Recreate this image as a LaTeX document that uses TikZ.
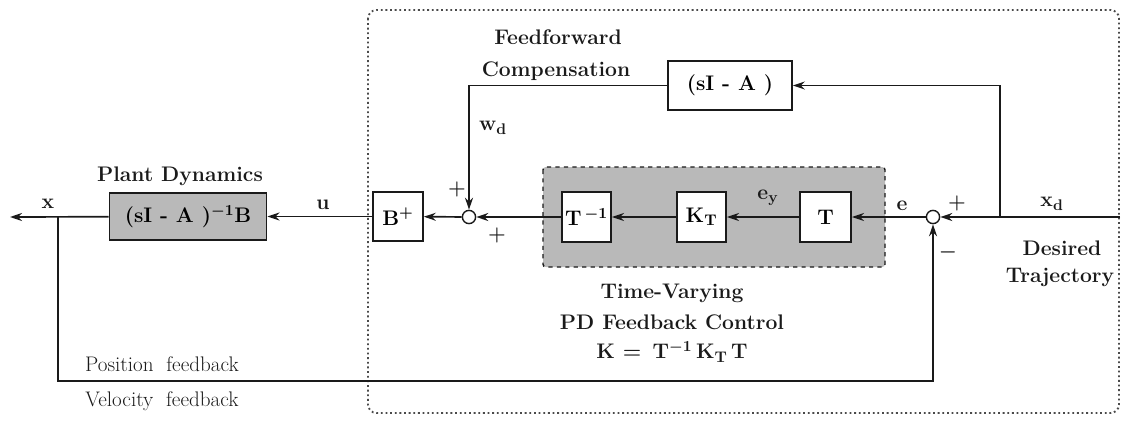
\documentclass[tikz,border=0pt]{standalone}
\usepackage{fontspec}
\usepackage{tikz}
\usetikzlibrary{arrows.meta, positioning}
\definecolor{trait}{HTML}{1A1A1A}
\definecolor{trame}{HTML}{B9B9B9}
\definecolor{pointille}{HTML}{4A4A4A}

\begin{document}
\begin{tikzpicture}[x=0.025cm, y=-0.025cm,
    bloc/.style={draw=trait, line width=1.2pt, fill=white, inner sep=0pt,
      font=\fontsize{15}{17}\selectfont\bfseries\boldmath},
    somme/.style={draw=trait, line width=1pt, circle, fill=white,
      minimum size=0.33cm, inner sep=0pt},
    signal/.style={draw=trait, line width=1.2pt, -{Stealth[length=3mm, width=2mm]}},
    lib/.style={font=\fontsize{15}{17}\selectfont\bfseries\boldmath, text=trait, inner sep=1pt},
    libfin/.style={font=\fontsize{15}{17}\selectfont, text=trait, inner sep=1pt}]
    \useasboundingbox (0,0) rectangle (1124,423);

    % Cadres
    \draw[pointille, dotted, line width=1.3pt, rounded corners=6pt] (368,10) rectangle (1119,413);
    \draw[trait, dashed, line width=1pt, fill=trame, rounded corners=2pt] (543,167) rectangle (885,267);

    % Blocs
    \node[bloc, fill=trame, minimum width=3.93cm, minimum height=1.18cm] (plante) at (188,216.5) {(sI - A )$^{\mathbf{-1}}$B};
    \node[bloc, minimum width=1.25cm, minimum height=1.23cm] (bplus) at (398,216.5) {B$^{\mathbf{+}}$};
    \node[somme] (som1) at (469,217) {};
    \node[bloc, minimum width=1.23cm, minimum height=1.25cm] (tinv) at (586.5,217) {T$^{\,\mathbf{-1}}$};
    \node[bloc, minimum width=1.23cm, minimum height=1.25cm] (kt) at (701.5,217) {K$_{\mathbf{T}}$};
    \node[bloc, minimum width=1.28cm, minimum height=1.25cm] (tmat) at (825.5,217) {T};
    \node[somme] (som2) at (933,217) {};
    \node[bloc, minimum width=3.1cm, minimum height=1.23cm] (compens) at (730,85.5) {(sI - A )};

    \coordinate (entree) at (1120,217);
    \coordinate (dep) at (1000,217);
    \coordinate (sortie) at (10,217);
    \coordinate (mesure) at (58,217);
    \coordinate (retour) at (58,381);

    % Liaisons
    \draw[signal] (entree) -- (som2);
    \draw[signal] (dep) |- (compens.east);
    \draw[signal] (compens.west) -| (som1.north);
    \draw[signal] (som2) -- (tmat);
    \draw[signal] (tmat) -- (kt);
    \draw[signal] (kt) -- (tinv);
    \draw[signal] (tinv) -- (som1);
    \draw[signal] (som1) -- (bplus);
    \draw[signal] (bplus) -- (plante);
    \draw[signal] (plante) -- (sortie);
    \draw[signal] (mesure) -- (retour) -| (som2.south);

    % Libelles
    \node[lib] (lx) at (48,204) {x};
    \node[lib] (lu) at (323,205) {u};
    \node[lib] (lplante) at (180,176) {Plant Dynamics};
    \node[lib] (p1) at (457,189) {$+$};
    \node[lib] (p2) at (497,235) {$+$};
    \node[lib] (lwd) at (493,128) {w$_{\mathbf{d}}$};
    \node[lib] (lff1) at (558,37) {Feedforward};
    \node[lib] (lff2) at (556,71) {Compensation};
    \node[lib] (ley) at (768,198) {e$_{\mathbf{y}}$};
    \node[lib] (le) at (902,206) {e};
    \node[lib] (p3) at (957,203) {$+$};
    \node[lib] (m1) at (948,252) {$-$};
    \node[lib] (lxd) at (1052,204) {x$_{\mathbf{d}}$};
    \node[lib] (ldes1) at (1062,248) {Desired};
    \node[lib] (ldes2) at (1060,277) {Trajectory};
    \node[lib] (ltv1) at (672,293) {Time-Varying};
    \node[lib] (ltv2) at (672,322) {PD Feedback Control};
    \node[lib] (ltv3) at (672,352) {K = \,T$^{\mathbf{-1}}$\,K$_{\mathbf{T}}$\,T};
    \node[libfin] (lpos) at (162,364) {Position\ \ feedback};
    \node[libfin] (lvit) at (162,401) {Velocity\ \ feedback};
\end{tikzpicture}
\end{document}
